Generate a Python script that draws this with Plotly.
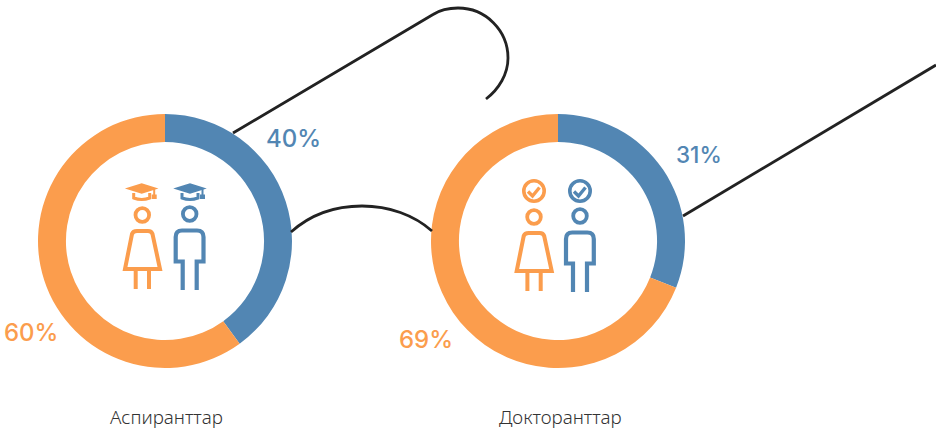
import plotly.graph_objects as go

W, H = 936, 430
BLUE = "#5286b3"
ORANGE = "#fb9d4d"
INK = "#222222"

slice_names = ["Ерлер", "Әйелдер"]
phd_aspirants = [40, 60]
doctoral = [31, 69]
category_labels = ["Аспиранттар", "Докторанттар"]
aspirant_pct = ["40%", "60%"]
doctoral_pct = ["31%", "69%"]


def pie(values, cx, cy, r):
    return go.Pie(
        labels=slice_names, values=values, sort=False, direction="clockwise", rotation=0,
        hole=0.78, textinfo="none", hoverinfo="skip", showlegend=False,
        marker=dict(colors=[BLUE, ORANGE], line=dict(width=0)),
        domain=dict(x=[(cx - r) / W, (cx + r) / W], y=[1 - (cy + r) / H, 1 - (cy - r) / H]),
    )


fig = go.Figure([pie(phd_aspirants, 165, 241, 127), pie(doctoral, 558, 241, 127)])
shapes = []


def path(d, color=INK, width=2.8, fill=None):
    s = dict(type="path", xref="x", yref="y", path=d, layer="above",
             line=dict(color=color, width=width))
    if fill:
        s["fillcolor"] = fill
    shapes.append(s)


def circle(cx, cy, r, color, width=3.8):
    shapes.append(dict(type="circle", xref="x", yref="y", x0=cx - r, x1=cx + r, y0=cy - r, y1=cy + r,
                       line=dict(color=color, width=width), layer="above"))


def woman(dx, dy):
    c = ORANGE
    circle(142.3 + dx, 215 + dy, 6.8, c)
    path(f"M{125+dx},{269+dy} L{132+dx},{234+dy} Q{133+dx},{231+dy} {137+dx},{231+dy} L{148+dx},{231+dy} "
         f"Q{151.5+dx},{231+dy} {152.5+dx},{234+dy} L{160+dx},{269+dy} Z", c, 4)
    path(f"M{135.7+dx},{269+dy} V{289+dy} M{149+dx},{269+dy} V{289+dy}", c, 4)


def man(dx, dy):
    c = BLUE
    circle(189.7 + dx, 214 + dy, 6.8, c)
    path(f"M{182.7+dx},{290+dy} V{261.5+dy} H{175.7+dx} V{237+dy} Q{175.7+dx},{230.5+dy} {182+dx},{230.5+dy} "
         f"H{197+dx} Q{203.5+dx},{230.5+dy} {203.5+dx},{237+dy} V{261.5+dy} H{196.7+dx} V{290+dy}", c, 4.2)


def hat(cx, c):
    path(f"M{cx-12.5},{188.5} L{cx},{184.5} L{cx+12.5},{188.5} L{cx},{192.5} Z", c, 2.6, c)
    path(f"M{cx-8},{193} V{198} Q{cx},{201} {cx+8},{198} V{193}", c, 3)
    path(f"M{cx+12.5},{189} V{195}", c, 2)
    path(f"M{cx+11},{195.5} H{cx+14} V{198} H{cx+11} Z", c, 2, c)


def badge(cx, c):
    circle(cx, 191, 10.2, c, 3.6)
    path(f"M{cx-6},{191.5} L{cx-1.5},{196} L{cx+5.5},{187.5}", c, 3.4)


woman(0, 0)
man(0, 0)
hat(141.7, ORANGE)
hat(190, BLUE)
woman(391.7, 2)
man(390.3, 2)
badge(534, ORANGE)
badge(580, BLUE)

path("M233,133 L433,14.5 C440,10 448,8 458,8 C485.6,8 508,30.4 508,58 C508,74 499,89 486,99")
path("M291,232 C310,215 335,206 362,206 C389,206 414,215 432,231")
path("M683,216 L936,65")


def label(text, x, y, color, size=24, family="Inter", weight=500):
    fig.add_annotation(text=text, x=x, y=y, xref="x", yref="y", showarrow=False, xanchor="center",
                       yanchor="middle", font=dict(family=family, size=size, color=color, weight=weight))


label(aspirant_pct[0], 293, 138, BLUE)
label(aspirant_pct[1], 31, 332, ORANGE)
label(doctoral_pct[0], 698.5, 154, BLUE, 22.5)
label(doctoral_pct[1], 426, 339, ORANGE)
label(category_labels[0], 166, 417, "#333333", 18.8, "Noto Sans", 300)
label(category_labels[1], 560, 417, "#333333", 18.8, "Noto Sans", 300)

fig.update_layout(
    width=W, height=H, margin=dict(l=0, r=0, t=0, b=0),
    paper_bgcolor="white", plot_bgcolor="white", shapes=shapes,
    xaxis=dict(range=[0, W], visible=False, fixedrange=True),
    yaxis=dict(range=[H, 0], visible=False, fixedrange=True),
)
fig.write_html("out.html", config=dict(displayModeBar=False),
               post_script="document.body.style.margin='0';document.body.style.overflow='hidden';")
